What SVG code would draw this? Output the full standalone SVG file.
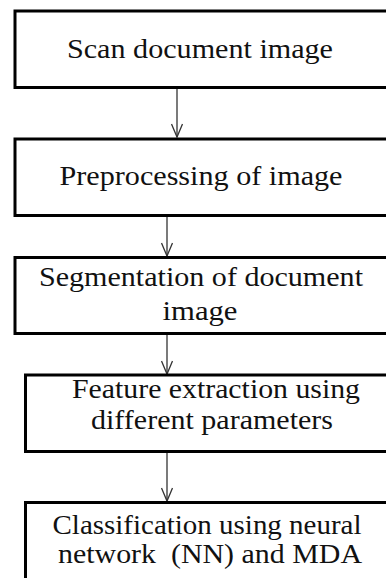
<svg xmlns="http://www.w3.org/2000/svg" width="386" height="578" viewBox="0 0 386 578">
<defs>
<style>
.box{fill:#fff;stroke:#000;stroke-width:3}
.t{font-family:"Liberation Serif","Times New Roman",serif;font-size:28px;fill:#111;text-anchor:middle;white-space:pre}
.c{stroke:#333;stroke-width:1.3;fill:none}
</style>
<marker id="ah" markerWidth="16" markerHeight="12" refX="14" refY="6" orient="auto" markerUnits="userSpaceOnUse">
<path d="M1,0.5 L14,6 L1,11.5" fill="none" stroke="#333" stroke-width="1.3"/>
</marker>
</defs>
<rect width="386" height="578" fill="#fff"/>
<g id="connectors">
<line class="c" x1="177" y1="89" x2="177" y2="137" marker-end="url(#ah)"/>
<line class="c" x1="167" y1="217" x2="167" y2="256" marker-end="url(#ah)"/>
<line class="c" x1="167" y1="335" x2="167" y2="374" marker-end="url(#ah)"/>
<line class="c" x1="167" y1="453" x2="167" y2="501" marker-end="url(#ah)"/>
</g>
<g id="n1">
<rect class="box" x="15" y="11" width="380" height="76.5"/>
<text class="t" x="200" y="58" textLength="266" lengthAdjust="spacingAndGlyphs">Scan document image</text>
</g>
<g id="n2">
<rect class="box" x="15" y="139" width="380" height="76.5"/>
<text class="t" x="201" y="185" textLength="283" lengthAdjust="spacingAndGlyphs">Preprocessing of image</text>
</g>
<g id="n3">
<rect class="box" x="15" y="257.5" width="380" height="76"/>
<text class="t" x="201" y="286" textLength="324" lengthAdjust="spacingAndGlyphs">Segmentation of document</text>
<text class="t" x="200" y="320" textLength="75" lengthAdjust="spacingAndGlyphs">image</text>
</g>
<g id="n4">
<rect class="box" x="25.5" y="375" width="370" height="76.5"/>
<text class="t" x="216" y="398" textLength="288" lengthAdjust="spacingAndGlyphs">Feature extraction using</text>
<text class="t" x="212" y="429" textLength="242" lengthAdjust="spacingAndGlyphs">different parameters</text>
</g>
<g id="n5">
<rect class="box" x="25.5" y="502.5" width="370" height="100"/>
<text class="t" x="207" y="534" textLength="309" lengthAdjust="spacingAndGlyphs">Classification using neural</text>
<text class="t" x="210" y="563" textLength="304" lengthAdjust="spacingAndGlyphs" xml:space="preserve">network  (NN) and MDA</text>
</g>
</svg>
